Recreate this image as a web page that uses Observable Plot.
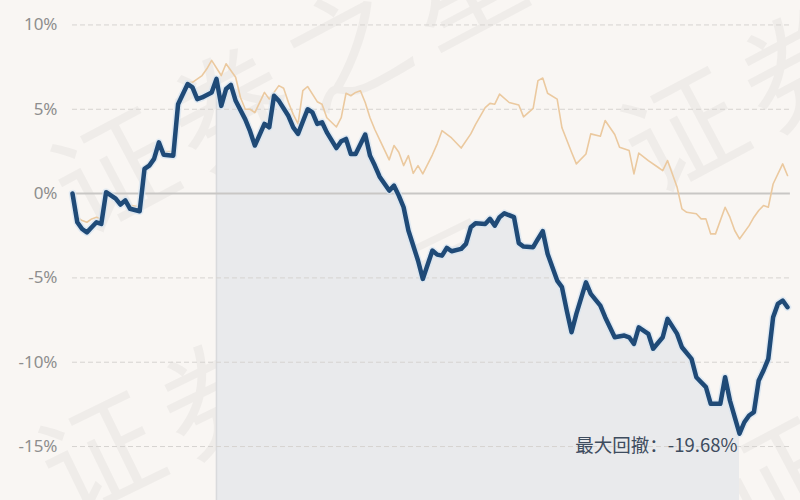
<!DOCTYPE html>
<html><head><meta charset="utf-8">
<script src="https://cdn.jsdelivr.net/npm/d3@7"></script>
<script src="https://cdn.jsdelivr.net/npm/@observablehq/plot@0.6"></script>
<style>
body{margin:0;background:#f9f6f3;}
#chart svg{display:block;background:#f9f6f3;}
</style>
</head><body><div id="chart"></div>
<script>
// Fund cumulative return (%), by trading-day index
const fundDays = [0,1,2,3,4,5,6,7,9,10,11,12,14,15,16,17,18,19,21,22,24,25,26,27,29,30,31,32,33,34,36,37,38,40,41,42,43,45,46,47,49,50,51,52,53,55,56,57,58,59,61,62,63,64,66,67,68,69,70,72,73,75,76,77,78,79,81,82,83,84,86,87,88,89,90,92,93,94,96,97,98,99,101,102,103,104,105,107,108,110,111,112,113,115,116,117,118,120,121,123,124,126,127,129,130,132,133,135,136,137,138,139,140,141,142,143,144,145,146,147,148,149];
const fundValues = [0,-1.7,-2.1,-2.3,-2.0,-1.7,-1.8,0.08,-0.3,-0.65,-0.4,-0.9,-1.05,1.46,1.66,2.06,3.04,2.3,2.25,5.3,6.5,6.3,5.6,5.7,6.0,6.8,5.2,6.2,6.45,5.5,4.4,3.7,2.85,4.13,3.93,5.8,5.5,4.6,3.93,3.54,5.0,4.82,4.13,4.23,3.63,2.7,3.1,3.24,2.35,2.35,3.5,2.25,1.66,1.0,0.18,0.47,-0.12,-0.81,-2.19,-3.97,-5.06,-3.38,-3.62,-3.68,-3.22,-3.42,-3.28,-2.98,-2.0,-1.76,-1.8,-1.5,-1.9,-1.4,-1.17,-1.4,-2.94,-3.14,-3.18,-2.69,-2.23,-3.57,-5.16,-5.55,-6.94,-8.22,-7.13,-5.26,-5.95,-6.64,-7.33,-7.93,-8.52,-8.42,-8.52,-8.91,-7.93,-8.32,-9.2,-8.52,-7.43,-8.32,-9.11,-9.8,-10.89,-11.48,-12.47,-12.47,-10.89,-12.27,-13.26,-14.24,-13.56,-13.16,-12.96,-11.08,-10.49,-9.8,-7.33,-6.54,-6.34,-6.74];
// Benchmark cumulative return (%)
const benchDays = [0,1,2,3,4,5,6,7,9,10,11,12,14,15,16,17,18,19,21,22,24,25,27,28,29,31,32,34,35,36,37,38,40,41,43,44,45,46,47,48,49,51,52,53,55,56,57,58,59,60,61,62,63,64,66,67,68,69,70,71,72,73,75,76,77,79,81,83,84,86,87,88,89,91,93,94,96,97,98,99,101,102,104,105,107,108,110,111,113,114,116,117,118,120,122,123,124,126,127,128,130,131,132,133,134,136,137,138,139,141,142,143,144,145,146,148,149];
const benchValues = [0,-1.4,-1.6,-1.7,-1.5,-1.4,-1.5,0.2,-0.2,-0.5,-0.3,-0.7,-0.8,1.6,1.8,2.2,3.1,2.5,2.5,5.4,6.6,6.6,7.0,7.4,7.9,7.0,7.7,6.9,5.7,5.0,5.0,4.8,6.0,5.6,6.4,6.25,5.4,4.7,4.13,6.1,6.35,5.45,5.3,4.5,3.95,4.5,5.95,5.8,6.0,6.1,5.4,4.5,3.8,3.2,2.0,2.85,2.45,1.66,2.25,1.2,1.66,1.17,2.3,2.95,3.73,3.3,2.7,3.54,4.1,5.1,5.35,5.3,5.9,5.4,5.25,4.55,5.05,6.7,6.85,5.95,5.6,3.9,2.45,1.76,2.35,3.54,3.4,4.33,3.5,2.75,2.55,1.17,2.4,1.96,1.56,1.36,1.96,0.37,-0.91,-1.11,-1.2,-1.5,-1.5,-2.39,-2.39,-0.81,-1.4,-2.19,-2.69,-1.9,-1.4,-1.0,-0.71,-0.81,0.57,1.76,1.07];
const yTicks = [-15,-10,-5,0,5,10];
const tickLabels = ["-15%","-10%","-5%","0%","5%","10%"];
const drawdownStart = 30, drawdownEnd = 139;
const drawdownLabel = "最大回撤：-19.68%";
const watermarkText = "证券之星";

const fund = fundDays.map((d,i)=>({day:d, value:fundValues[i]}));
const bench = benchDays.map((d,i)=>({day:d, value:benchValues[i]}));
const ticks = yTicks.map((v,i)=>({v, label:tickLabels[i]}));
const yMin = -18.2, yMax = 11.45;
const dd = fund.filter(p => p.day >= drawdownStart && p.day <= drawdownEnd);
const trough = fund.find(p => p.day === drawdownEnd);
const peak = fund.find(p => p.day === drawdownStart);

const font = "'Noto Sans', 'Noto Sans CJK SC', sans-serif";
const chart = Plot.plot({
  width: 800, height: 500,
  marginLeft: 72, marginRight: 13, marginTop: 0, marginBottom: 0,
  x: {domain: [0, 149], axis: null},
  y: {domain: [yMin, yMax], axis: null},
  style: {fontFamily: font, background: "#f9f6f3"},
  marks: [
    Plot.areaY(dd, {x: "day", y1: yMin, y2: "value", fill: "#e9eaec"}),
    Plot.ruleX([peak], {x: "day", y1: yMin, y2: "value", stroke: "#d9dadc", strokeWidth: 1.5}),
    Plot.ruleY(yTicks.filter(v => v !== 0), {x1: 0, x2: 149.6, stroke: "#d6d3d0", strokeWidth: 1, strokeDasharray: "5,3"}),
    Plot.ruleY([0], {x1: 0, x2: 149.6, stroke: "#c9c7c5", strokeWidth: 2}),
    Plot.text(ticks, {x: 0, y: "v", text: "label", dx: -15, textAnchor: "end", fontSize: 17, fill: "#8e8e8e"}),
    Plot.line(bench, {x: "day", y: "value", stroke: "#ebc99f", strokeWidth: 1.6, curve: "linear"}),
    Plot.line(fund, {x: "day", y: "value", stroke: "#d6e4f1", strokeWidth: 7.5, strokeOpacity: 0.7}),
    Plot.line(fund, {x: "day", y: "value", stroke: "#1f4a77", strokeWidth: 4.5, strokeLinejoin: "round"}),
    Plot.text([trough], {x: "day", y: "value", text: () => drawdownLabel, dy: 12, dx: -2, textAnchor: "end", lineAnchor: "middle", fontSize: 18.5, fill: "#3e4c5e", fontFamily: "'Noto Sans CJK SC', sans-serif"})
  ]
});

// faint diagonal watermark behind everything
const ns = "http://www.w3.org/2000/svg";
const wmPositions = [[300, 85, -28], [290, 375, -26], [870, 45, -28], [960, 395, -28]];
for (const [cx, cy, rot] of wmPositions) {
  const t = document.createElementNS(ns, "text");
  t.setAttribute("x", cx); t.setAttribute("y", cy);
  t.setAttribute("text-anchor", "middle");
  t.setAttribute("dominant-baseline", "middle");
  t.setAttribute("transform", `rotate(${rot},${cx},${cy})`);
  t.setAttribute("font-size", "118");
  t.setAttribute("letter-spacing", "14");
  t.setAttribute("font-family", "'Noto Sans CJK SC', sans-serif");
  t.setAttribute("fill", "#000");
  t.setAttribute("fill-opacity", "0.038");
  t.textContent = watermarkText;
  chart.insertBefore(t, chart.querySelector("g"));
}
document.getElementById("chart").appendChild(chart);
</script>
</body></html>
